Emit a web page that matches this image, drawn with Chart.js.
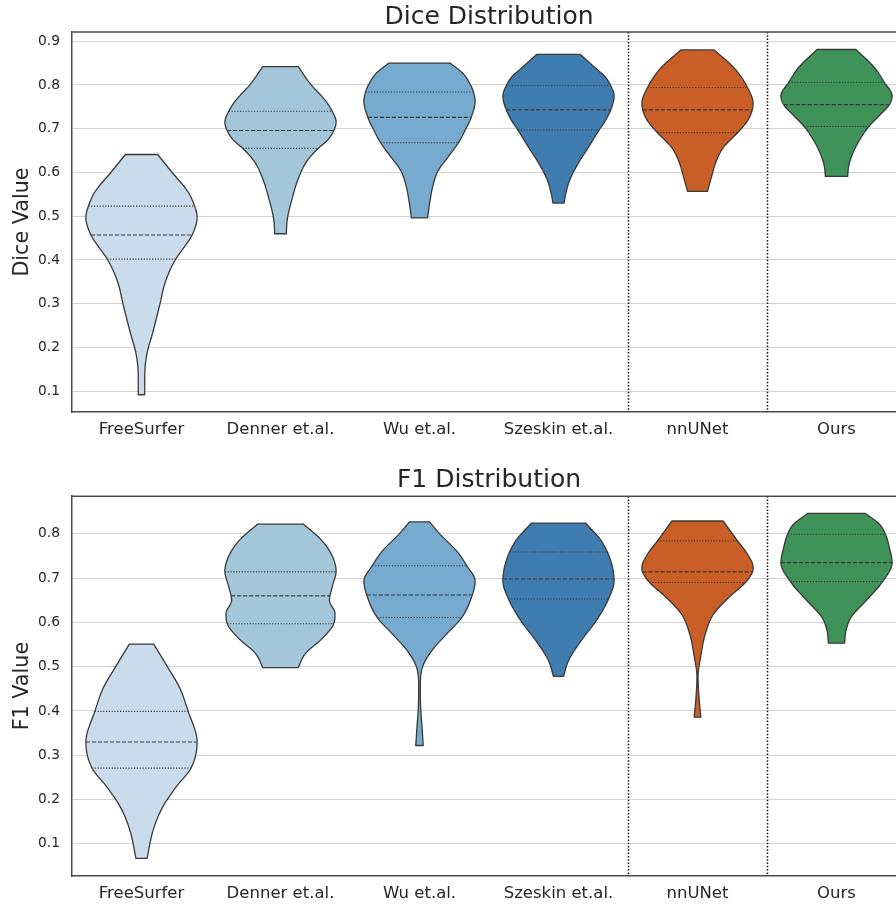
<!DOCTYPE html>
<html><head><meta charset="utf-8">
<script src="https://cdn.jsdelivr.net/npm/chart.js@4.4.1/dist/chart.umd.min.js"></script>
<style>
html,body{margin:0;padding:0;background:#fff;overflow:hidden;width:896px;height:906px}
#wrap{position:relative;width:906px;height:906px}
canvas{position:absolute;left:0}
#c1{top:0}
#c2{top:453px}
</style></head><body>
<div id="wrap"><canvas id="c1" width="906" height="453"></canvas><canvas id="c2" width="906" height="453"></canvas></div>
<script>
// ---------- DATA ----------
const categories = ["FreeSurfer", "Denner et.al.", "Wu et.al.", "Szeskin et.al.", "nnUNet", "Ours"];
const fillColors = ["#cadbeb", "#a4c6db", "#76aace", "#3f7db1", "#c95e27", "#3f9359"];
const diceTicks = [0.1, 0.2, 0.3, 0.4, 0.5, 0.6, 0.7, 0.8, 0.9];
const f1Ticks = [0.1, 0.2, 0.3, 0.4, 0.5, 0.6, 0.7, 0.8];
const separators = [3.5, 4.5];

// quartiles
const diceQ1     = [0.402, 0.655, 0.668, 0.697, 0.691, 0.705];
const diceMedian = [0.457, 0.696, 0.726, 0.743, 0.743, 0.755];
const diceQ3     = [0.523, 0.740, 0.784, 0.798, 0.794, 0.806];
const f1Q1       = [0.271, 0.597, 0.611, 0.653, 0.690, 0.692];
const f1Median   = [0.330, 0.660, 0.662, 0.698, 0.714, 0.735];
const f1Q3       = [0.399, 0.714, 0.728, 0.759, 0.784, 0.799];

// violin profiles: [value, relative density width]
const diceFreeSurfer = [[0.641,0.29],[0.597,0.57],[0.559,0.82],[0.525,0.95],[0.498,1.0],[0.457,0.91],[0.430,0.77],[0.403,0.62],[0.354,0.44],[0.293,0.32],[0.233,0.20],[0.187,0.10],[0.141,0.06],[0.092,0.058]];
const diceDenner = [[0.842,0.32],[0.802,0.54],[0.764,0.81],[0.740,0.93],[0.715,1.0],[0.696,0.96],[0.673,0.84],[0.655,0.68],[0.627,0.48],[0.589,0.33],[0.536,0.20],[0.491,0.12],[0.460,0.105]];
const diceWu = [[0.850,0.55],[0.825,0.79],[0.802,0.91],[0.784,0.97],[0.764,1.0],[0.726,0.93],[0.696,0.82],[0.668,0.70],[0.635,0.51],[0.605,0.34],[0.574,0.25],[0.536,0.19],[0.496,0.145]];
const diceSzeskin = [[0.870,0.39],[0.840,0.65],[0.817,0.85],[0.798,0.94],[0.775,1.0],[0.743,0.94],[0.718,0.84],[0.697,0.73],[0.658,0.54],[0.620,0.35],[0.582,0.20],[0.551,0.13],[0.530,0.10]];
const diceNnUNet = [[0.880,0.30],[0.840,0.65],[0.794,0.90],[0.757,1.0],[0.743,0.985],[0.718,0.90],[0.691,0.72],[0.658,0.47],[0.627,0.34],[0.589,0.25],[0.557,0.18]];
const diceOurs = [[0.881,0.35],[0.840,0.68],[0.806,0.86],[0.775,1.0],[0.755,0.95],[0.730,0.77],[0.705,0.58],[0.673,0.41],[0.643,0.29],[0.615,0.22],[0.591,0.20]];

const f1FreeSurfer = [[0.551,0.22],[0.499,0.47],[0.454,0.68],[0.399,0.84],[0.330,1.0],[0.271,0.89],[0.228,0.62],[0.183,0.38],[0.131,0.21],[0.067,0.10]];
const f1Denner = [[0.822,0.41],[0.784,0.75],[0.750,0.93],[0.716,1.0],[0.680,0.93],[0.650,0.88],[0.620,0.98],[0.595,0.95],[0.560,0.72],[0.530,0.45],[0.498,0.32]];
const f1Wu = [[0.827,0.18],[0.799,0.37],[0.761,0.67],[0.728,0.85],[0.694,1.0],[0.662,0.95],[0.611,0.76],[0.574,0.49],[0.536,0.22],[0.499,0.054],[0.454,0.015],[0.409,0.02],[0.364,0.045],[0.322,0.067]];
const f1Szeskin = [[0.824,0.49],[0.784,0.77],[0.739,0.94],[0.694,1.0],[0.653,0.90],[0.604,0.68],[0.559,0.41],[0.514,0.18],[0.478,0.09]];
const f1NnUNet = [[0.829,0.46],[0.784,0.72],[0.754,0.90],[0.724,1.0],[0.714,0.99],[0.690,0.86],[0.656,0.56],[0.619,0.29],[0.574,0.14],[0.529,0.067],[0.476,0.01],[0.431,0.027],[0.386,0.06]];
const f1Ours = [[0.846,0.52],[0.822,0.77],[0.799,0.88],[0.769,0.95],[0.735,1.0],[0.692,0.83],[0.649,0.53],[0.611,0.26],[0.581,0.17],[0.553,0.145]];

const diceProfiles = [diceFreeSurfer, diceDenner, diceWu, diceSzeskin, diceNnUNet, diceOurs];
const f1Profiles = [f1FreeSurfer, f1Denner, f1Wu, f1Szeskin, f1NnUNet, f1Ours];

// ---------- RENDERING ----------
const FONT = "'DejaVu Sans', 'Liberation Sans', sans-serif";
const TEXT = '#262626';
const EDGE = '#3a3a3a';
const FRAME = '#4a4a4a';

// monotone cubic (Fritsch-Carlson) interpolation of half-width h along pixel y
function monotone(xs, ys) {
  const n = xs.length, d = [], m = new Array(n);
  for (let i = 0; i < n - 1; i++) d[i] = (ys[i+1] - ys[i]) / (xs[i+1] - xs[i]);
  m[0] = d[0]; m[n-1] = d[n-2];
  for (let i = 1; i < n - 1; i++) m[i] = (d[i-1] * d[i] <= 0) ? 0 : (d[i-1] + d[i]) / 2;
  for (let i = 0; i < n - 1; i++) {
    if (d[i] === 0) { m[i] = 0; m[i+1] = 0; continue; }
    const a = m[i] / d[i], b = m[i+1] / d[i], s = a*a + b*b;
    if (s > 9) { const t = 3 / Math.sqrt(s); m[i] = t*a*d[i]; m[i+1] = t*b*d[i]; }
  }
  return x => {
    let i = 0;
    while (i < n - 2 && x > xs[i+1]) i++;
    const hseg = xs[i+1] - xs[i], t = Math.min(1, Math.max(0, (x - xs[i]) / hseg));
    const t2 = t*t, t3 = t2*t;
    return (2*t3 - 3*t2 + 1)*ys[i] + (t3 - 2*t2 + t)*hseg*m[i] + (-2*t3 + 3*t2)*ys[i+1] + (t3 - t2)*hseg*m[i+1];
  };
}

function violinPlugin(profiles, q1, med, q3) {
  return {
    id: 'violins',
    beforeDatasetsDraw(chart) {
      const ctx = chart.ctx, xs = chart.scales.x, ys = chart.scales.y;
      profiles.forEach((prof, i) => {
        const cx = xs.getPixelForValue(i);
        const unit = xs.getPixelForValue(i + 0.4) - cx;
        const py = prof.map(p => ys.getPixelForValue(p[0]));
        const ph = prof.map(p => p[1] * unit);
        const H = monotone(py, ph);
        const top = py[0], bot = py[py.length - 1];
        const dense = [];
        for (let y = top; y < bot; y += 0.5) dense.push({ y, h: Math.max(0.45, H(y)) });
        dense.push({ y: bot, h: ph[ph.length - 1] });
        ctx.save();
        ctx.beginPath();
        ctx.moveTo(cx - dense[0].h, dense[0].y);
        dense.forEach(d => ctx.lineTo(cx + d.h, d.y));
        for (let k = dense.length - 1; k >= 0; k--) ctx.lineTo(cx - dense[k].h, dense[k].y);
        ctx.closePath();
        ctx.fillStyle = fillColors[i];
        ctx.fill();
        ctx.lineWidth = 1.3;
        ctx.strokeStyle = EDGE;
        ctx.lineJoin = 'round';
        ctx.stroke();
        // inner quartile lines
        const lines = [[q1[i], [1.2, 1.6]], [med[i], [4.2, 1.8]], [q3[i], [1.2, 1.6]]];
        lines.forEach(([v, dash]) => {
          const y = ys.getPixelForValue(v);
          const h = H(y);
          ctx.beginPath();
          ctx.setLineDash(dash);
          ctx.lineWidth = 1.1;
          ctx.strokeStyle = EDGE;
          ctx.moveTo(cx - h, y);
          ctx.lineTo(cx + h, y);
          ctx.stroke();
        });
        ctx.restore();
      });
    },
    afterDraw(chart) {
      const ctx = chart.ctx, xs = chart.scales.x, a = chart.chartArea;
      ctx.save();
      ctx.strokeStyle = '#111';
      ctx.lineWidth = 1.5;
      ctx.setLineDash([1.5, 1.8]);
      separators.forEach(s => {
        const x = Math.round(xs.getPixelForValue(s)) + 0.5;
        ctx.beginPath(); ctx.moveTo(x, a.top); ctx.lineTo(x, a.bottom); ctx.stroke();
      });
      ctx.setLineDash([]);
      ctx.strokeStyle = FRAME;
      ctx.lineWidth = 1.5;
      ctx.beginPath(); ctx.moveTo(a.left, a.top); ctx.lineTo(chart.width, a.top); ctx.stroke();
      ctx.restore();
    }
  };
}

function makeChart(id, title, yLabel, ticks, yMin, yMax, profiles, q1, med, q3, titlePad, xAxisH) {
  return new Chart(document.getElementById(id), {
    type: 'scatter',
    data: { datasets: [{ data: [] }] },
    options: {
      responsive: false, animation: false, devicePixelRatio: 1,
      layout: { padding: 0 },
      plugins: {
        legend: { display: false }, tooltip: { enabled: false },
        title: { display: true, text: title, fullSize: false, color: TEXT,
          font: { family: FONT, size: 25, weight: 'normal' }, padding: titlePad }
      },
      scales: {
        x: {
          type: 'linear', min: -0.5, max: 5.5,
          afterBuildTicks: s => { s.ticks = categories.map((c, i) => ({ value: i })); },
          afterFit: s => { s.height = xAxisH; },
          ticks: { padding: 8, autoSkip: false, maxRotation: 0, color: TEXT,
            font: { family: FONT, size: 16.5 }, callback: v => categories[v] },
          grid: { color: 'rgba(0,0,0,0)', drawTicks: false },
          border: { display: true, color: FRAME, width: 1.5 }
        },
        y: {
          type: 'linear', min: yMin, max: yMax,
          afterBuildTicks: s => { s.ticks = ticks.map(v => ({ value: v })); },
          afterFit: s => { s.width = 72; },
          ticks: { padding: 12, autoSkip: false, color: TEXT,
            font: { family: FONT, size: 13.8 }, callback: v => Number(v).toFixed(1) },
          grid: { color: '#d4d4d4', lineWidth: 1, drawTicks: false },
          border: { display: true, color: FRAME, width: 1.5 },
          title: { display: true, text: yLabel, color: TEXT,
            font: { family: FONT, size: 20.7 }, padding: { top: 10, bottom: 0 } }
        }
      }
    },
    plugins: [violinPlugin(profiles, q1, med, q3)]
  });
}

makeChart('c1', 'Dice Distribution', 'Dice Value', diceTicks, 0.0526, 0.921,
  diceProfiles, diceQ1, diceMedian, diceQ3, { top: 2, bottom: 0 }, 41);
makeChart('c2', 'F1 Distribution', 'F1 Value', f1Ticks, 0.0273, 0.885,
  f1Profiles, f1Q1, f1Median, f1Q3, { top: 12.6, bottom: 0.6 }, 30);
</script>
</body></html>
